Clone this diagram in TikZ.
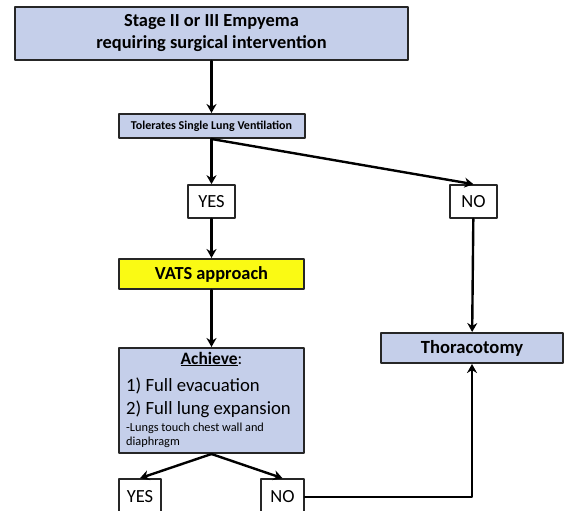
\documentclass[tikz,border=0pt]{standalone}
\usepackage{fontspec}
\setmainfont{Carlito}
\usetikzlibrary{arrows.meta}
\definecolor{boxblue}{RGB}{197,207,234}
\definecolor{boxyellow}{RGB}{250,250,20}
\tikzset{
  stepbox/.style={draw=black!85, line width=2pt, fill=boxblue, inner sep=0pt},
  answer/.style={draw=black!85, line width=1.6pt, fill=white, inner sep=0pt,
    minimum width=47pt, minimum height=33pt, font=\fontsize{18.5}{20}\selectfont},
  flow/.style={line width=2.4pt, -{Stealth[length=9pt,width=10pt]}}
}
\begin{document}
\begin{tikzpicture}[x=1pt, y=-1pt, line cap=round, line join=round]
  \useasboundingbox (0,0) rectangle (565,511);
  \clip (0,0) rectangle (565,511);
  % boxes
  \node[stepbox, minimum width=393pt, minimum height=53pt, align=center,
        font=\bfseries\fontsize{18.4}{22}\selectfont] (top) at (211.5,33.5)
        {Stage II or III Empyema\\requiring surgical intervention};
  \node[stepbox, minimum width=186pt, minimum height=24pt,
        font=\bfseries\fontsize{12}{13}\selectfont] (tol) at (211.5,126)
        {Tolerates Single Lung Ventilation};
  \node[answer] (yes1) at (211.5,201.5) {YES};
  \node[answer] (no1) at (473.5,201.5) {NO};
  \node[stepbox, fill=boxyellow, minimum width=185pt, minimum height=30pt,
        font=\bfseries\fontsize{18.4}{20}\selectfont] (vats) at (211.5,274) {VATS approach};
  \node[stepbox, minimum width=185pt, minimum height=105pt] (ach) at (211.5,400.5) {};
  \node[stepbox, minimum width=182pt, minimum height=30pt,
        font=\bfseries\fontsize{18.6}{20}\selectfont] (thor) at (472,348) {Thoracotomy};
  \node[answer, minimum width=42pt, minimum height=36pt] (yes2) at (140,497) {YES};
  \node[answer, minimum width=43pt, minimum height=36pt] (no2) at (282.5,497) {NO};
  % text in the achieve box
  \node[inner sep=0pt, font=\fontsize{17.4}{19}\selectfont] (achhead) at (211.5,359)
        {\textbf{\underline{Achieve}}:};
  \node[anchor=west, inner sep=0pt, font=\fontsize{18.7}{20}\selectfont] (item1) at (126,386)
        {1) Full evacuation};
  \node[anchor=west, inner sep=0pt, font=\fontsize{18.7}{20}\selectfont] (item2) at (126,409)
        {2) Full lung expansion};
  \node[anchor=west, inner sep=0pt, align=left,
        font=\fontsize{12.3}{14}\selectfont] (note) at (126,435)
        {-Lungs touch chest wall and\\diaphragm};
  % connectors
  \draw[flow] (top) -- (tol);
  \draw[flow] (tol) -- (yes1);
  \draw[flow] (tol.south) -- (no1.north);
  \draw[flow] (yes1) -- (vats);
  \draw[flow] (no1) -- (thor);
  \draw[flow] (vats) -- (ach);
  \draw[flow] (ach.south) -- (yes2.north);
  \draw[flow] (ach.south) -- (no2.north);
  \draw[flow] (no2.east) -| (thor.south);
\end{tikzpicture}
\end{document}
